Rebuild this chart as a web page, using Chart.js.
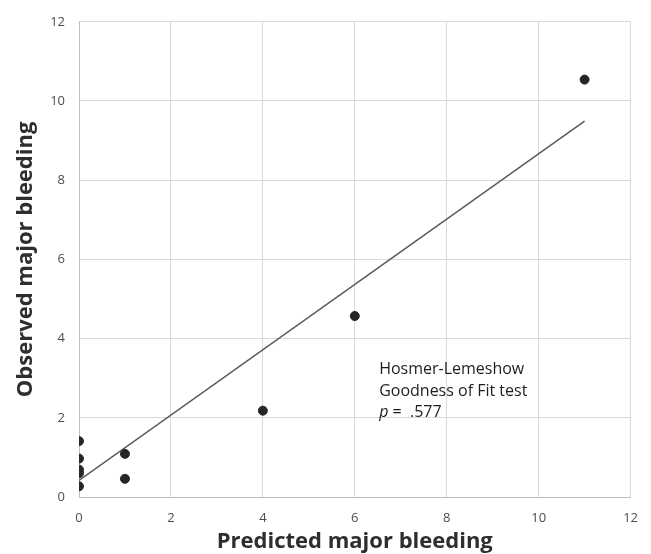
<!DOCTYPE html>
<html>
<head>
<meta charset="utf-8">
<script src="https://cdn.jsdelivr.net/npm/chart.js@4/dist/chart.umd.min.js"></script>
<style>
  html, body { margin: 0; padding: 0; background: #fff; }
  #wrap { width: 651px; height: 554px; }
</style>
</head>
<body>
<div id="wrap"><canvas id="c" width="651" height="554"></canvas></div>
<script>
const predicted = [0, 0, 0, 0, 0, 1, 1, 4, 6, 11];
const observed = [1.41, 0.97, 0.69, 0.60, 0.27, 1.09, 0.46, 2.18, 4.57, 10.54];
const fitX = [0, 11];
const fitY = [0.42, 9.49];
const axisTicks = [0, 2, 4, 6, 8, 10, 12];
const annotationLines = ["Hosmer-Lemeshow", "Goodness of Fit test"];
const pValueText = ".577";

const FONT = "'Open Sans', 'Liberation Sans', sans-serif";

const annotationPlugin = {
  id: 'hlAnnotation',
  afterDraw(chart) {
    const ctx = chart.ctx;
    const xs = chart.scales.x, ys = chart.scales.y;
    const x0 = xs.getPixelForValue(6.53);
    const y0 = ys.getPixelForValue(3.22);
    const lh = 21.5;
    ctx.save();
    ctx.fillStyle = '#1e1e1e';
    ctx.textBaseline = 'middle';
    ctx.textAlign = 'left';
    ctx.font = "16px " + FONT;
    annotationLines.forEach((t, i) => ctx.fillText(t, x0, y0 + i * lh));
    const y2 = y0 + 2 * lh;
    ctx.font = "italic 16px " + FONT;
    ctx.fillText('p', x0, y2);
    const w = ctx.measureText('p').width;
    ctx.font = "16px " + FONT;
    ctx.fillText(' =  ' + pValueText, x0 + w, y2);
    ctx.restore();
  }
};

new Chart(document.getElementById('c'), {
  type: 'scatter',
  data: {
    datasets: [
      {
        label: 'Observed',
        data: predicted.map((x, i) => ({ x: x, y: observed[i] })),
        backgroundColor: '#262626',
        borderColor: '#262626',
        pointRadius: 4.5,
        pointHoverRadius: 4.5,
        showLine: false,
        order: 1
      },
      {
        label: 'Fit',
        type: 'line',
        data: fitX.map((x, i) => ({ x: x, y: fitY[i] })),
        borderColor: '#5a5a5a',
        borderWidth: 1.5,
        pointRadius: 0,
        fill: false,
        tension: 0,
        order: 2
      }
    ]
  },
  options: {
    responsive: false,
    animation: false,
    devicePixelRatio: 1,
    layout: { padding: { top: 20, right: 17, left: 0, bottom: 0 } },
    plugins: {
      legend: { display: false },
      tooltip: { enabled: false }
    },
    scales: {
      x: {
        type: 'linear',
        min: 0, max: 12,
        afterBuildTicks(scale) { scale.ticks = axisTicks.map(v => ({ value: v })); },
        afterFit(scale) { scale.height = 57; },
        ticks: { color: '#4d4d4d', font: { family: FONT, size: 13 }, padding: 13 },
        grid: { color: '#d9d9d9', lineWidth: 1, drawTicks: false },
        border: { color: '#bfbfbf', width: 1 },
        title: {
          display: true,
          text: 'Predicted major bleeding',
          color: '#2e2e2e',
          font: { family: FONT, size: 22, weight: 'bold' },
          padding: { top: 0, bottom: -1 }
        }
      },
      y: {
        type: 'linear',
        min: 0, max: 12,
        afterBuildTicks(scale) { scale.ticks = axisTicks.map(v => ({ value: v })); },
        afterFit(scale) { scale.width = 79; },
        ticks: { color: '#4d4d4d', font: { family: FONT, size: 13 }, padding: 14 },
        grid: { color: '#d9d9d9', lineWidth: 1, drawTicks: false },
        border: { color: '#bfbfbf', width: 1 },
        title: {
          display: true,
          text: 'Observed major bleeding',
          color: '#2e2e2e',
          font: { family: FONT, size: 22, weight: 'bold' },
          padding: { top: 13, bottom: 0 }
        }
      }
    }
  },
  plugins: [annotationPlugin]
});
</script>
</body>
</html>
